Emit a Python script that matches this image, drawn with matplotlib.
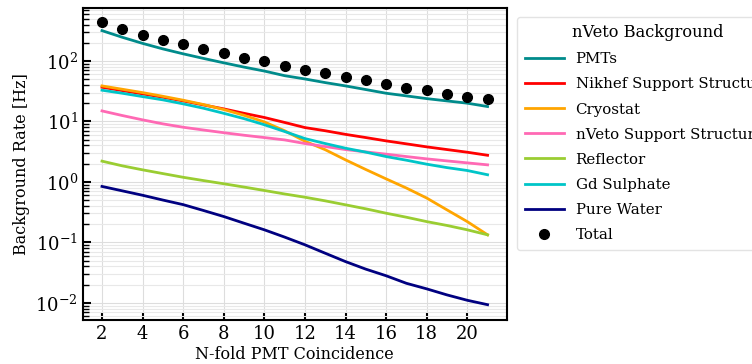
import numpy as np
import matplotlib
matplotlib.use('Agg')
import matplotlib.pyplot as plt

# data
n_fold = list(range(2, 22))

pmts = [317, 246, 195, 158, 131, 110, 93, 79, 68, 57, 50.3, 43.8, 38.6, 33.6,
        29.2, 26.4, 23.8, 21.8, 20.0, 17.6]
nikhef = [36.7, 32.3, 28.5, 25.1, 21.8, 18.7, 16.1, 13.6, 11.6, 9.6, 7.9, 7.0,
          6.1, 5.4, 4.76, 4.25, 3.79, 3.42, 3.09, 2.75]
cryostat = [38.6, 34.0, 29.9, 26.0, 22.4, 19.0, 15.7, 12.6, 9.8, 7.0, 4.7, 3.4,
            2.31, 1.6, 1.12, 0.79, 0.54, 0.344, 0.22, 0.133]
nveto_support = [14.9, 12.5, 10.6, 9.1, 8.0, 7.2, 6.5, 5.9, 5.4, 4.94, 4.3,
                 3.84, 3.42, 3.13, 2.87, 2.62, 2.40, 2.22, 2.06, 1.91]
reflector = [2.2, 1.84, 1.58, 1.37, 1.19, 1.05, 0.93, 0.82, 0.72, 0.63, 0.557,
             0.485, 0.417, 0.358, 0.303, 0.26, 0.22, 0.19, 0.161, 0.133]
gd_sulphate = [32.8, 29.2, 25.7, 22.7, 19.5, 16.5, 13.6, 11.1, 8.8, 6.8, 5.2,
               4.3, 3.6, 3.1, 2.62, 2.28, 1.96, 1.72, 1.54, 1.31]
pure_water = [0.84, 0.71, 0.60, 0.50, 0.42, 0.336, 0.267, 0.207, 0.161, 0.122,
              0.091, 0.066, 0.048, 0.036, 0.028, 0.021, 0.017, 0.0135, 0.011, 0.0093]
total = [437, 338, 272, 225, 191, 156, 137, 113, 99, 83, 71, 62, 55, 48, 41,
         35.4, 33.2, 28.5, 25.7, 23.3]

plt.rcParams['font.family'] = ['DejaVu Serif']
plt.rcParams['mathtext.fontset'] = 'dejavuserif'

fig = plt.figure(figsize=(7.52, 3.64), dpi=100)
ax = fig.add_axes([0.110, 0.121, 0.564, 0.857])

lw = 2
ax.plot(n_fold, pmts, color='#008B8B', lw=lw, label='PMTs')
ax.plot(n_fold, nikhef, color='#FF0000', lw=lw, label='Nikhef Support Structure')
ax.plot(n_fold, cryostat, color='#FFA500', lw=lw, label='Cryostat')
ax.plot(n_fold, nveto_support, color='#FF69B4', lw=lw, label='nVeto Support Structure')
ax.plot(n_fold, reflector, color='#9ACD32', lw=lw, label='Reflector')
ax.plot(n_fold, gd_sulphate, color='#00C5C8', lw=lw, label='Gd Sulphate')
ax.plot(n_fold, pure_water, color='#000080', lw=lw, label='Pure Water')
ax.plot(n_fold, total, 'o', color='black', ms=7, ls='none', label='Total')

ax.set_yscale('log')
ax.set_xlim(1.05, 21.95)
ax.set_ylim(5.2e-3, 750)
ax.set_xticks(range(2, 22, 2))

ax.grid(True, which='major', color='#dddddd', lw=0.8)
ax.grid(True, which='minor', axis='y', color='#e8e8e8', lw=0.8)
ax.set_axisbelow(True)

ax.tick_params(axis='both', which='major', direction='in', labelsize=13,
               length=6, width=1.5)
ax.tick_params(axis='y', which='minor', direction='in', length=4, width=1)
ax.tick_params(axis='x', which='minor', bottom=False)
for sp in ax.spines.values():
    sp.set_linewidth(1.5)

ax.set_xlabel('N-fold PMT Coincidence', fontsize=11.5, labelpad=2)
ax.set_ylabel('Background Rate [Hz]', fontsize=11.5)

# legend runs past the right edge, as in the original
leg = ax.legend(title='nVeto Background', loc='upper left',
                bbox_to_anchor=(1.024, 0.972), fontsize=10.8, title_fontsize=11.7,
                frameon=True, fancybox=True, edgecolor='#dddddd',
                handlelength=2.6, borderaxespad=0, labelspacing=0.74,
                borderpad=0.5)

fig.savefig('out.png', dpi=100)
